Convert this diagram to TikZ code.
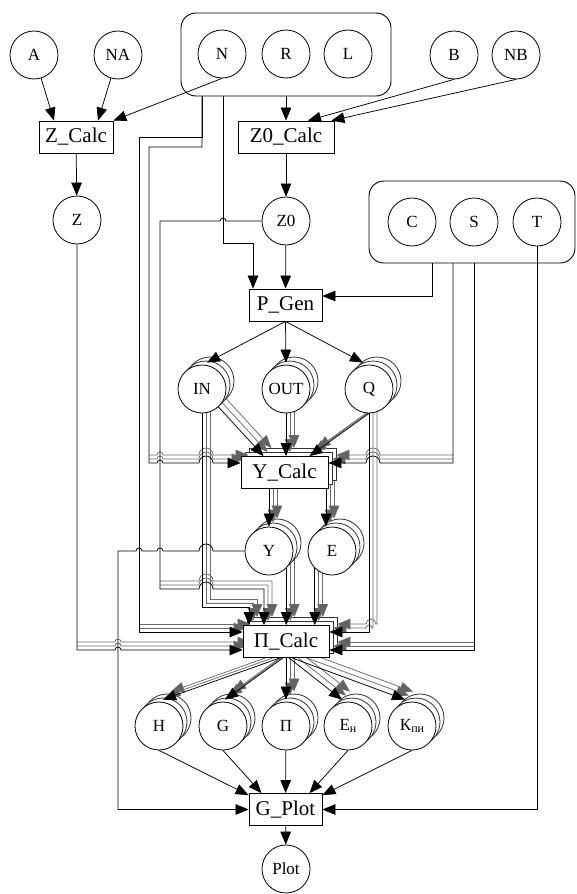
\documentclass[tikz,border=0pt]{standalone}
\usepackage{fontspec}
\setmainfont{Liberation Serif}
\usetikzlibrary{arrows.meta,calc}
\pgfdeclarelayer{bg}
\pgfdeclarelayer{ghost}
\pgfsetlayers{bg,ghost,main}
\newcommand\bumpL[3]{-- ({#1+#3},{#2}) arc[start angle=0,end angle=180,radius=#3pt]}
\newcommand\bumpR[3]{-- ({#1-#3},{#2}) arc[start angle=180,end angle=0,radius=#3pt]}
\newcommand\lowsub[1]{\raisebox{-2.5pt}{\fontsize{12}{12}\selectfont #1}}
\newcommand\mcirc[4]{%
  \begin{pgfonlayer}{ghost}
    \node[gcirc] (#12) at ({#2+8},{#3-8}) {};
    \node[gcirc] (#11) at ({#2+4},{#3-4}) {};
  \end{pgfonlayer}
  \node[circ] (#10) at (#2,#3) {#4};}
\newcommand\mbx[5]{%
  \begin{pgfonlayer}{ghost}
    \node[gbox,minimum width=#4pt] (#12) at ({#2+8},{#3-8}) {};
    \node[gbox,minimum width=#4pt] (#11) at ({#2+4},{#3-4}) {};
  \end{pgfonlayer}
  \node[box,minimum width=#4pt] (#10) at (#2,#3) {#5};}
\newcommand\medges[1]{%
  \draw[ek] (IN#1) -- ([xshift=-21pt]Ycalc#1.north);
  \draw[ek] (IN#1.south) -- ++(0,194) -| ([xshift=-37pt]Picalc#1.north);
  \draw[ek] (OUT#1.south) -- (OUT#1.south |- Ycalc#1.north);
  \draw[ek] (Q#1.south) -- ([xshift=25pt]Ycalc#1.north);
  \draw[ek] (Y#1.north |- Ycalc#1.south) -- (Y#1.north);
  \draw[ek] ($(E#1.north |- Ycalc#1.south)+(-6,0)$) -- ($(E#1.north)+(-6,0)$);
  \draw[ek] (Y#1.south east) -- (Y#1.south east |- Picalc#1.north);
  \draw[ek] (E#1.south west) -- (E#1.south west |- Picalc#1.north);
  \draw[ek] ($(Picalc#1.south)+(-6,0)$) -- ($(H#1.north)+(4,-2)$);
  \draw[ek] ($(Picalc#1.south)+(-3,0)$) -- ($(G#1.north)+(2,-2)$);
  \draw[ek] (Picalc#1.south) -- ($(Pi#1.north)+(0,-2)$);
  \draw[ek] ($(Picalc#1.south)+(3,0)$) -- ($(En#1.north)+(-6,-2)$);
  \draw[ek] ($(Picalc#1.south)+(6,0)$) -- ($(Kpi#1.north)+(-7,-2)$);}
\newcommand\sedges[1]{%
  \draw[ek] (149,{463-4*#1}) \bumpR{160}{463-4*#1}{3} \bumpR{206}{463-4*#1}{7} -- ([yshift=9.5pt]Ycalc#1.west);
  \draw[ek] (139,{632-4*#1}) -- ([yshift=9.5pt]Picalc#1.west);
  \draw[ek] (77,{650-4*#1}) \bumpR{118}{650-4*#1}{3} -- ([yshift=-8.5pt]Picalc#1.west);
  \draw[ek] (160,{589-4*#1}) \bumpR{206}{589-4*#1}{7} -- ({264+4*#1},{589-4*#1}) -- ([xshift=-22pt]Picalc#1.north);
  \draw[ek] (453,{463-4*#1}) \bumpL{373}{463-4*#1}{7} -- ([yshift=9.5pt]Ycalc#1.east);
  \draw[ek] (474,{650-4*#1}) -- ([yshift=-8.5pt]Picalc#1.east);}
\begin{document}
\begin{tikzpicture}[x=1pt,y=-1pt,
  circ/.style={circle,draw,line width=0.8pt,minimum size=48pt,inner sep=0pt,fill=white,font=\fontsize{17}{17}\selectfont},
  gcirc/.style={circle,draw=black!80,line width=0.8pt,minimum size=48pt,inner sep=0pt,fill=white},
  box/.style={rectangle,draw,line width=0.8pt,minimum height=32pt,inner sep=0pt,fill=white,font=\fontsize{21}{21}\selectfont},
  gbox/.style={rectangle,draw=black!80,line width=0.8pt,minimum height=32pt,inner sep=0pt,fill=white},
  clus/.style={draw,line width=0.9pt,rounded corners=15pt,inner sep=0pt},
  arr/.style={draw=black,line width=0.75pt,-{Triangle[length=13pt,width=10.5pt]}},
  gh/.style={draw=black!58,line width=0.75pt,-{Triangle[length=13pt,width=10.5pt,fill=black!62]}}]
\useasboundingbox (0,0) rectangle (576,894);
% clusters
\begin{pgfonlayer}{bg}
  \node[clus,minimum width=210pt,minimum height=83pt] (cl1) at (286,54.5) {};
  \node[clus,minimum width=206pt,minimum height=82pt] (cl2) at (472,222) {};
\end{pgfonlayer}
\coordinate (c1a) at (202,96);
\coordinate (c1b) at (223,96);
\coordinate (c2a) at (432,263);
\coordinate (c2b) at (453,263);
\coordinate (c2c) at (474,263);
% nodes
\node[circ] (A) at (34,55) {A};
\node[circ] (NA) at (118,55) {NA};
\node[circ] (N) at (222,54) {N};
\node[circ] (R) at (286,54) {R};
\node[circ] (L) at (348,54) {L};
\node[circ] (B) at (454,55) {B};
\node[circ] (NB) at (516,55) {NB};
\node[box,minimum width=74pt] (Zcalc) at (76,137) {Z\_Calc};
\node[box,minimum width=96pt] (Z0calc) at (286,137) {Z0\_Calc};
\node[circ] (Z) at (77,220) {Z};
\node[circ] (Zzero) at (286,221) {Z0};
\node[circ] (C) at (412,222) {C};
\node[circ] (S) at (474,222) {S};
\node[circ] (T) at (537,222) {T};
\node[box,minimum width=73pt] (Pgen) at (285.5,305) {P\_Gen};
\mcirc{IN}{202}{389}{IN}
\mcirc{OUT}{286}{389}{OUT}
\mcirc{Q}{369}{389}{Q}
\mbx{Ycalc}{284.5}{472.5}{87}{Y\_Calc}
\mcirc{Y}{269}{551}{Y}
\mcirc{E}{332}{551}{E}
\mbx{Picalc}{286}{641.5}{86}{П\_Calc}
\mcirc{H}{159}{726}{Н}
\mcirc{G}{223}{726}{G}
\mcirc{Pi}{286}{726}{П}
\mcirc{En}{348}{726}{Е\lowsub{н}}
\mcirc{Kpi}{412}{726}{К\lowsub{пи}}
\node[box,minimum width=73pt] (Gplot) at (285.5,809.5) {G\_Plot};
\node[circ] (Plot) at (286,869) {Plot};
% ghost edges
\begin{pgfonlayer}{ghost}
\begin{scope}[ek/.style={gh}]
  \medges{2}
  \medges{1}
  \sedges{2}
  \sedges{1}
  \draw[ek] (Q1.south) -- (373,628) \bumpL{369}{628}{3} -- ([yshift=9.5pt]Picalc1.east);
  \draw[ek] (Q2.south) -- (377,624) \bumpL{371}{624}{5} -- ([yshift=9.5pt]Picalc2.east);
\end{scope}
\end{pgfonlayer}
% main edges
\draw[arr] (A) -- ([xshift=-22pt]Zcalc.north);
\draw[arr] (NA) -- ([xshift=22pt]Zcalc.north);
\draw[arr] (N.south) -- (Zcalc.north east);
\draw[arr] (cl1.south) -- (Z0calc.north);
\draw[arr] (B.south) -- ([xshift=22pt]Z0calc.north);
\draw[arr] (NB.south) -- ([xshift=-3pt]Z0calc.north east);
\draw[arr] (Zcalc) -- (Z);
\draw[arr] (Z0calc) -- (Zzero);
\draw[arr] (c1b) -- (223,243) -| ([xshift=-32.5pt]Pgen.north);
\draw[arr] (Zzero) -- (Pgen);
\draw[arr] (c2a) |- ([yshift=9pt]Pgen.east);
\draw[arr] (Pgen.south) -- ([xshift=5pt,yshift=2pt]IN0.north);
\draw[arr] (Pgen.south) -- ([yshift=2pt]OUT0.north);
\draw[arr] (Pgen.south) -- ([xshift=-6pt,yshift=2pt]Q0.north);
\draw[arr] (c1a) -- (202,147) -- (149,147) -- (149,463) \bumpR{160}{463}{3} \bumpR{206}{463}{7} -- ([yshift=9.5pt]Ycalc0.west);
\draw[arr] (c1a) -- (202,137) -- (139,137) -- (139,632) -- ([yshift=9.5pt]Picalc0.west);
\draw[arr] (Z.south) -- (77,650) \bumpR{118}{650}{3} -- ([yshift=-8.5pt]Picalc0.west);
\draw[arr] (Zzero.west) \bumpL{223}{221}{3} -- (160,221) -- (160,589) \bumpR{206}{589}{7} -- (264,589) -- ([xshift=-22pt]Picalc0.north);
\draw[arr] (c2b) -- (453,463) \bumpL{373}{463}{7} -- ([yshift=9.5pt]Ycalc0.east);
\draw[arr] (c2c) -- (474,650) -- ([yshift=-8.5pt]Picalc0.east);
\draw[arr] (Q0.south) |- ([yshift=9.5pt]Picalc0.east);
\draw[arr] (T.south) |- (Gplot.east);
\draw[arr] (Y0.west) \bumpL{206}{551}{7} \bumpL{160}{551}{3} \bumpL{139}{551}{3} -- (118,551) |- (Gplot.west);
\begin{scope}[ek/.style={arr}]
  \medges{0}
\end{scope}
\draw[arr] (H0.south) -- ($(Gplot.north west)+(0,2)$);
\draw[arr] (G0.south) -- ($(Gplot.north)+(-24,0)$);
\draw[arr] (Pi0) -- (Gplot);
\draw[arr] (En0.south) -- ($(Gplot.north)+(24,0)$);
\draw[arr] (Kpi0.south) -- ($(Gplot.north east)+(0,2)$);
\draw[arr] (Gplot) -- (Plot);
\end{tikzpicture}
\end{document}
